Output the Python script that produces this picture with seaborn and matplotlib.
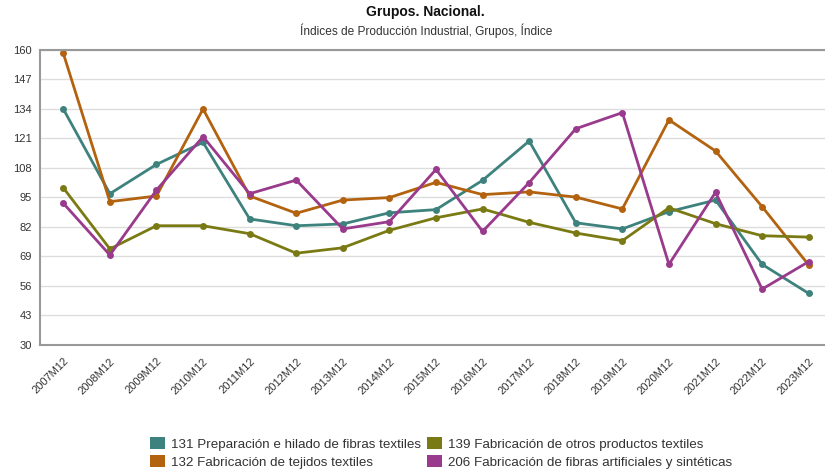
import numpy as np
import pandas as pd
import matplotlib
matplotlib.use("Agg")
import matplotlib.pyplot as plt
from matplotlib.patches import Patch
import seaborn as sns

periodos = [f"{a}M12" for a in range(2007, 2024)]

g131 = [133.9, 96.6, 109.5, 119.2, 85.5, 82.5, 83.3, 88.2, 89.6, 102.5,
        119.8, 83.8, 81.1, 88.7, 93.8, 65.5, 52.7]
g132 = [158.4, 93.1, 95.6, 133.9, 95.6, 88.0, 93.8, 94.9, 101.6, 96.2,
        97.4, 95.1, 89.9, 129.1, 115.4, 90.9, 65.2]
g139 = [99.2, 72.3, 82.5, 82.5, 79.0, 70.4, 72.8, 80.5, 86.0, 89.9,
        84.0, 79.3, 75.9, 90.4, 83.4, 78.1, 77.5]
g206 = [92.4, 69.6, 98.2, 121.7, 96.6, 102.6, 81.1, 84.3, 107.3, 80.0,
        101.5, 125.2, 132.3, 65.5, 97.2, 54.6, 66.7]

nombres = ["131 Preparación e hilado de fibras textiles",
           "132 Fabricación de tejidos textiles",
           "139 Fabricación de otros productos textiles",
           "206 Fabricación de fibras artificiales y sintéticas"]
colores = ["#3e827d", "#b3620f", "#7a7a14", "#993a8c"]

yticks = list(range(30, 161, 13))

# tabla larga para seaborn
df = pd.DataFrame({
    "periodo": periodos * 4,
    "x": list(range(len(periodos))) * 4,
    "valor": g131 + g132 + g139 + g206,
    "grupo": np.repeat(nombres, len(periodos)),
})

sns.set_style("white")
plt.rcParams["font.family"] = ["Liberation Sans", "DejaVu Sans"]

fig = plt.figure(figsize=(8.25, 4.7), dpi=100)
ax = fig.add_axes([40 / 825, 125 / 470, 792 / 825, 295.3 / 470])

sns.lineplot(data=df, x="x", y="valor", hue="grupo", palette=colores,
             marker="o", markersize=5, markeredgewidth=0, linewidth=2,
             legend=False, ax=ax)

ax.set_xlim(-0.5, len(periodos) - 0.5)
ax.set_ylim(30, 160)
ax.set_yticks(yticks)
ax.set_yticklabels([str(v) for v in yticks], fontsize=8, color="#333333")
ax.set_xticks(range(len(periodos)))
ax.set_xticklabels(periodos, rotation=45, ha="right", rotation_mode="anchor",
                   fontsize=8, color="#333333")
ax.set_xticks(np.arange(-0.5, len(periodos), 1), minor=True)
ax.tick_params(axis="x", which="major", length=0, pad=8)
ax.tick_params(axis="x", which="minor", length=4, color="#aaaaaa")
ax.tick_params(axis="y", length=4, color="#aaaaaa", pad=2)
ax.set_xlabel("")
ax.set_ylabel("")
ax.grid(axis="y", color="#dddddd", linewidth=1)
for lado in ["left", "bottom", "top"]:
    ax.spines[lado].set_color("#999999")
    ax.spines[lado].set_linewidth(1.5)
ax.spines["right"].set_visible(False)

fig.text(425 / 825, 1 - 12 / 470, "Grupos. Nacional.", ha="center",
         va="center", fontsize=10, fontweight="bold", color="#111111")
fig.text(426 / 825, 1 - 31 / 470,
         "Índices de Producción Industrial, Grupos, Índice",
         ha="center", va="center", fontsize=8.6, color="#333333")

handles = [Patch(facecolor=c, edgecolor="none", label=n)
           for c, n in zip(colores, nombres)]
fig.legend(handles=handles, loc="center", ncol=2,
           bbox_to_anchor=(441 / 825, 1 - 453 / 470), frameon=False,
           fontsize=9.6, handlelength=1.1, handleheight=1.0,
           handletextpad=0.45, columnspacing=0.5, labelspacing=0.3,
           borderpad=0, labelcolor="#333333")

fig.savefig("out.png", dpi=100)
